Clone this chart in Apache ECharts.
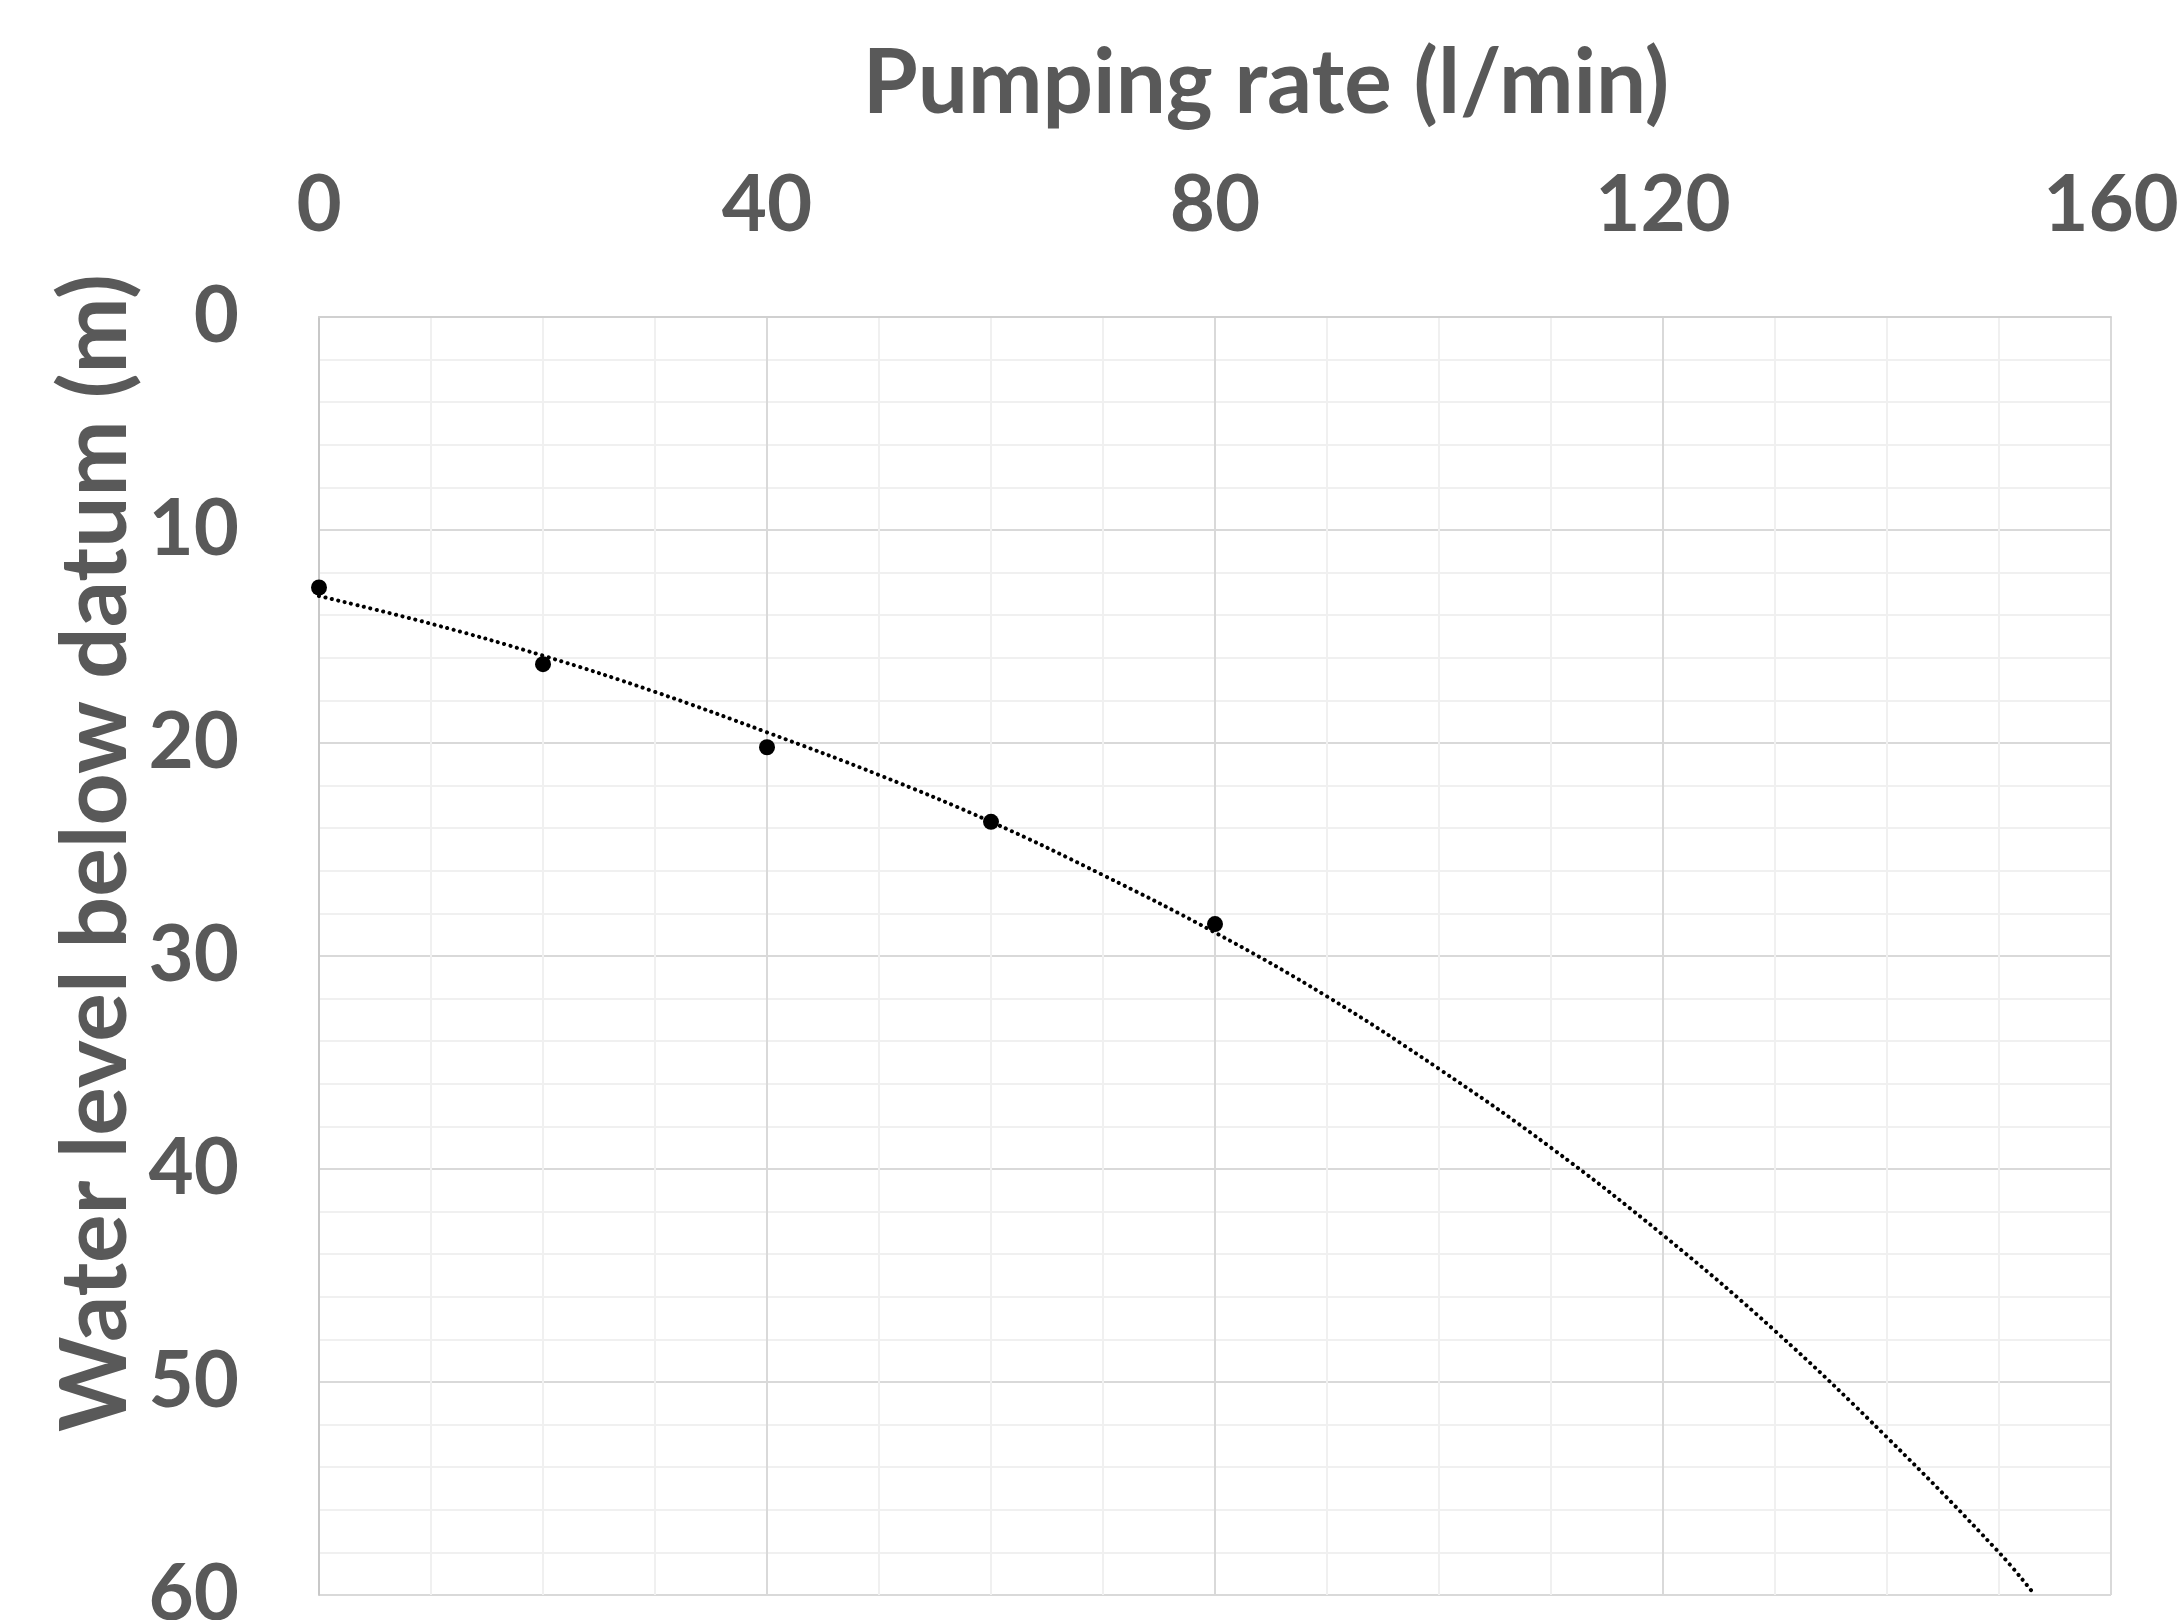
<!DOCTYPE html>
<html>
<head>
<meta charset="utf-8">
<script src="https://cdn.jsdelivr.net/npm/echarts@6/dist/echarts.min.js"></script>
<style>
html,body{margin:0;padding:0;background:#fff;}
#chart{width:2182px;height:1620px;}
</style>
</head>
<body>
<div id="chart"></div>
<script>
// Measured data (pumping rate l/min, water level below datum m)
const pumpingRate = [0, 20, 40, 60, 80];
const waterLevel = [12.7, 16.3, 20.2, 23.7, 28.5];

// Trend line
const trendRate = [0, 10, 20, 30, 40, 50, 60, 70, 80, 90, 100, 110, 120, 130, 140, 150, 153.2];
const trendLevel = [13.1, 14.4, 15.9, 17.6, 19.5, 21.5, 23.7, 26.2, 28.9, 31.9, 35.3, 39.0, 43.1, 47.6, 52.6, 58.0, 60.0];

const xTitle = 'Pumping rate (l/min)';
const yTitle = 'Water level below datum (m)';

const FONT = 'Lato, "Open Sans", sans-serif';
const TXT = '#595959';

const chart = echarts.init(document.getElementById('chart'));
chart.setOption({
  animation: false,
  backgroundColor: '#ffffff',
  grid: {left: 319, right: 71, top: 317, bottom: 25, containLabel: false, outerBoundsMode: 'none'},
  xAxis: {
    type: 'value', position: 'top', min: 0, max: 160, interval: 40,
    axisLine: {show: true, lineStyle: {color: '#d0d0d0', width: 2}},
    axisTick: {show: false},
    axisLabel: {color: TXT, fontFamily: FONT, fontWeight: 'bold', fontSize: 78, margin: 72},
    splitLine: {show: true, lineStyle: {color: '#d9d9d9', width: 2}},
    minorTick: {show: false, splitNumber: 4},
    minorSplitLine: {show: true, lineStyle: {color: '#f0f0f0', width: 2}}
  },
  yAxis: {
    type: 'value', inverse: true, min: 0, max: 60, interval: 10,
    axisLine: {show: true, lineStyle: {color: '#c8c8c8', width: 2}},
    axisTick: {show: false},
    axisLabel: {color: TXT, fontFamily: FONT, fontWeight: 'bold', fontSize: 78, margin: 80},
    splitLine: {show: true, lineStyle: {color: '#d9d9d9', width: 2}},
    minorTick: {show: false, splitNumber: 5},
    minorSplitLine: {show: true, lineStyle: {color: '#f0f0f0', width: 2}}
  },
  graphic: [
    {type: 'text', x: 1266, y: 84,
     style: {text: xTitle, fill: TXT, font: 'bold 89px ' + FONT, textAlign: 'center', textVerticalAlign: 'middle'}},
    {type: 'text', x: 97, y: 853, rotation: Math.PI / 2,
     style: {text: yTitle, fill: TXT, font: 'bold 91px ' + FONT, textAlign: 'center', textVerticalAlign: 'middle'}}
  ],
  series: [
    {
      type: 'line', smooth: 0.4, showSymbol: false, silent: true,
      data: trendRate.map((x, i) => [x, trendLevel[i]]),
      lineStyle: {color: '#000', width: 4, type: [0.1, 6.5], cap: 'round', opacity: 1},
      z: 2
    },
    {
      type: 'scatter', symbol: 'circle', symbolSize: 16,
      data: pumpingRate.map((x, i) => [x, waterLevel[i]]),
      itemStyle: {color: '#000', opacity: 1},
      z: 3
    }
  ]
});
</script>
</body>
</html>
